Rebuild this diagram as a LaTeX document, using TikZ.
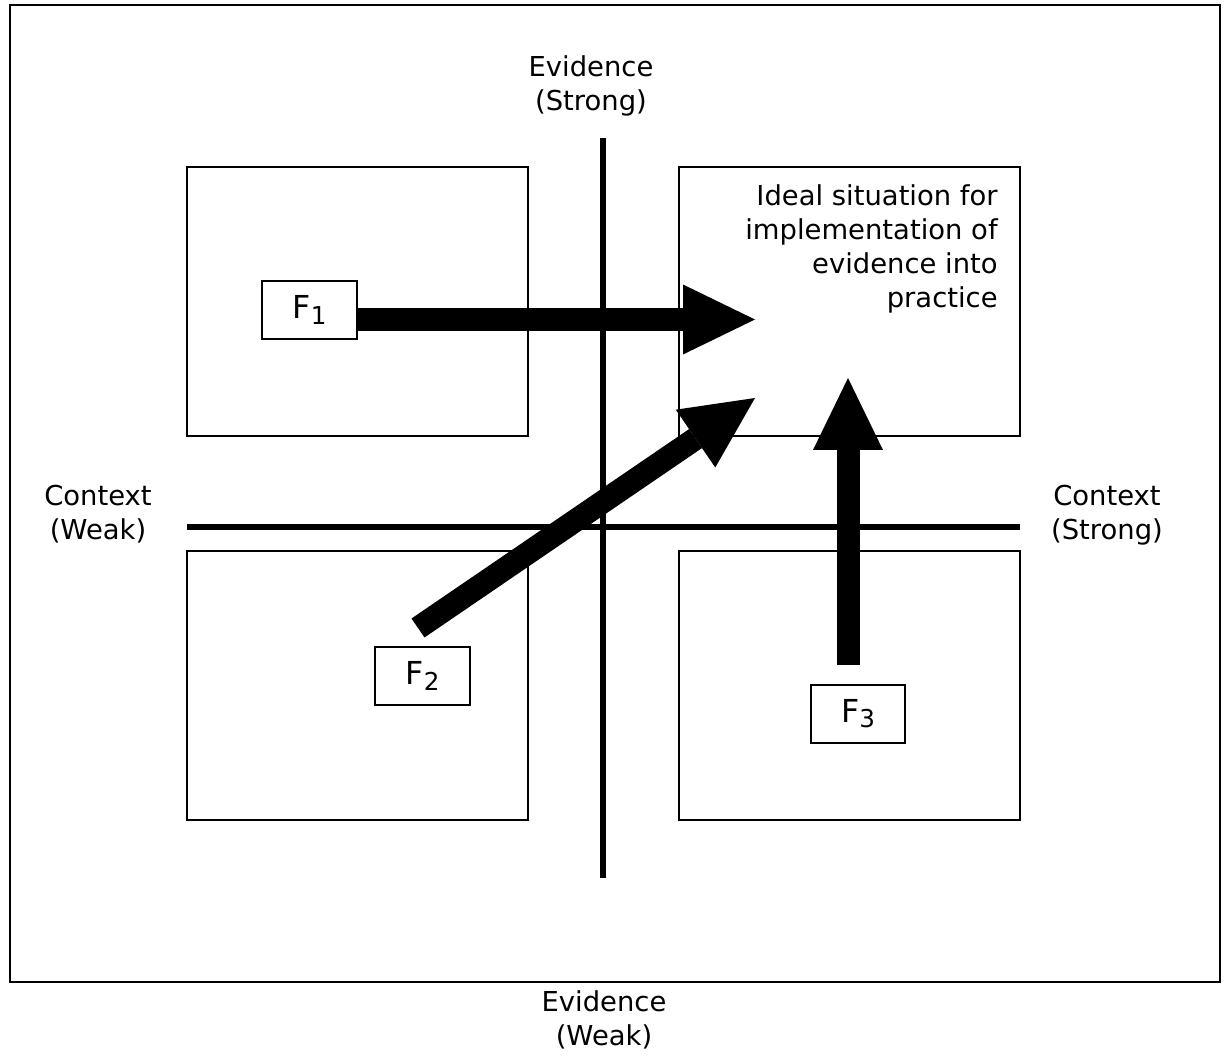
\documentclass[tikz,border=0pt]{standalone}
\usepackage{fontspec}
\setmainfont{DejaVu Sans}
\usetikzlibrary{arrows.meta}
\newcommand{\fac}[1]{F\raisebox{-3pt}{\fontsize{14}{14}\selectfont #1}}
\begin{document}
\begin{tikzpicture}[
        x=0.02cm, y=-0.02cm,
        every node/.style={font=\fontsize{15.6}{19.4}\selectfont, inner sep=0pt},
        quadrant/.style={draw, line width=0.04cm, minimum width=6.82cm, minimum height=5.38cm},
        factor/.style={draw, fill=white, line width=0.04cm, minimum width=1.9cm, minimum height=1.16cm, font=\fontsize{18}{18}\selectfont},
        axis/.style={line width=0.11cm},
        bigarrow/.style={line width=0.46cm, -{Triangle[length=1.44cm, width=1.4cm, line width=0pt]}}
    ]
    \useasboundingbox (0,0) rectangle (1225,1057);
    \draw[line width=0.05cm] (10,5) rectangle (1220,982);

    % quadrants
    \node[quadrant] (tl) at (357.5,301.5) {};
    \node[quadrant] (tr) at (849.5,301.5) {};
    \node[quadrant] (bl) at (357.5,685.5) {};
    \node[quadrant] (br) at (849.5,685.5) {};

    % axes
    \coordinate (evtop) at (603,138);
    \coordinate (evbot) at (603,878);
    \coordinate (cxleft) at (187,527);
    \coordinate (cxright) at (1020,527);
    \draw[axis] (evtop) -- (evbot);
    \draw[axis] (cxleft) -- (cxright);

    % factors
    \node[factor] (f1) at (309.5,310) {\fac{1}};
    \node[factor] (f2) at (422.5,676) {\fac{2}};
    \node[factor] (f3) at (858,714) {\fac{3}};

    % arrows towards the ideal quadrant
    \coordinate (a1s) at (357,319.5);
    \coordinate (a1e) at (755,319.5);
    \coordinate (a2s) at (418,628);
    \coordinate (a2e) at (755,398);
    \coordinate (a3s) at (848,665);
    \coordinate (a3e) at (848,378);
    \draw[bigarrow] (a1s) -- (a1e);
    \draw[bigarrow] (a2s) -- (a2e);
    \draw[bigarrow] (a3s) -- (a3e);

    % labels
    \node[anchor=north, align=center] (evstrong) at (591,55) {Evidence\\(Strong)};
    \node[anchor=north, align=center] (evweak) at (604,990) {Evidence\\(Weak)};
    \node[anchor=north, align=center] (cxweak) at (98,485) {Context\\(Weak)};
    \node[anchor=north, align=center] (cxstrong) at (1107,485) {Context\\(Strong)};
    \node[anchor=north east, align=right] (ideal) at (998,184)
        {Ideal situation for\\implementation of\\evidence into\\practice};
\end{tikzpicture}
\end{document}
